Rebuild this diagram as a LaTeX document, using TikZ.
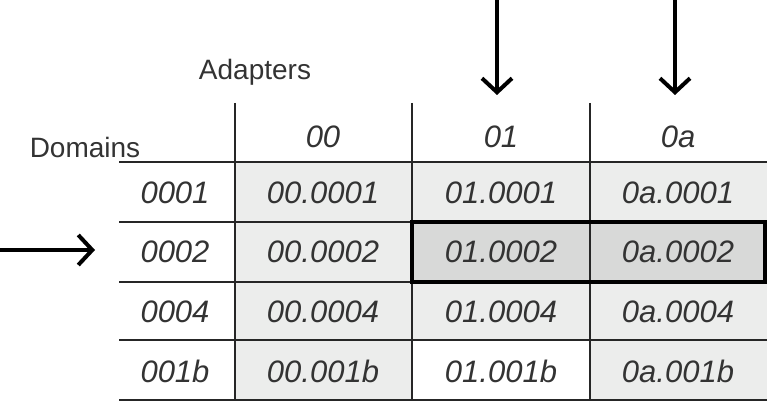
\documentclass[tikz,border=0pt]{standalone}
\usepackage{fontspec}
\setmainfont{Liberation Sans}
\usetikzlibrary{arrows.meta}
\definecolor{cellgray}{RGB}{236,237,236}
\definecolor{selgray}{RGB}{216,217,216}
\tikzset{
  cell/.style={font=\fontsize{31}{34}\selectfont\itshape, text=black!80},
  head/.style={font=\fontsize{28}{32}\selectfont, text=black!80},
  grid/.style={line width=1.3pt, black!85},
  pointer/.style={line width=4pt, -{Straight Barb[length=14pt,width=30pt,line width=4pt]}}
}
\begin{document}
\begin{tikzpicture}[x=1pt,y=-1pt]
  \useasboundingbox (0,0) rectangle (769,401);
  % shading
  \fill[cellgray] (235,162) rectangle (767,400);
  \fill[white] (412,340) rectangle (590,400);
  \fill[selgray] (412,222) rectangle (767,282);
  % grid
  \foreach \y in {162,222,282,340,400}
    \draw[grid] (119,\y) -- (767,\y);
  \foreach \x in {235,412,590}
    \draw[grid] (\x,103) -- (\x,400);
  \draw[line width=4pt] (412,222) rectangle (765,282);
  % titles
  \node[head] (adapters) at (255,72) {Adapters};
  \node[head] (domains) at (85,147) {Domains};
  % column heads
  \node[cell] (c00) at (323,137) {00};
  \node[cell] (c01) at (501,137) {01};
  \node[cell] (c0a) at (678,137) {0a};
  % rows
  \foreach \r/\y in {0001/193,0002/252,0004/312,001b/371}{
    \node[cell] (r\r) at (175,\y) {\r};
    \node[cell] (a00\r) at (323,\y) {00.\r};
    \node[cell] (a01\r) at (501,\y) {01.\r};
    \node[cell] (a0a\r) at (678,\y) {0a.\r};
  }
  % pointers
  \coordinate (p01) at (497,0);
  \coordinate (p0a) at (675,0);
  \coordinate (prow) at (0,250);
  \draw[pointer] (p01) -- ++(0,95);
  \draw[pointer] (p0a) -- ++(0,95);
  \draw[pointer] (prow) -- ++(95,0);
\end{tikzpicture}
\end{document}
